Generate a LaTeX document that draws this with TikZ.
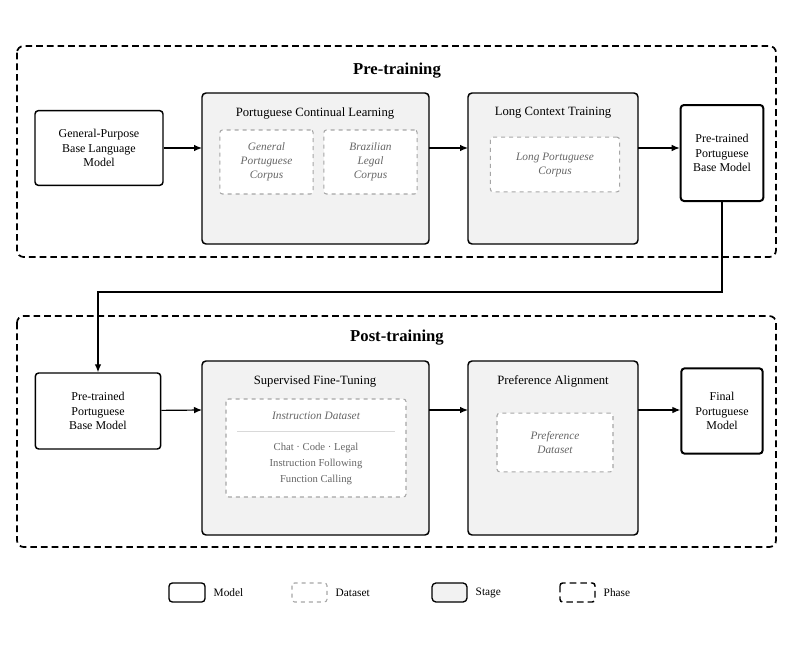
\documentclass[tikz,border=0pt]{standalone}
\usepackage{fontspec}
\setmainfont{Liberation Serif}
\usetikzlibrary{arrows.meta}
\begin{document}
\begin{tikzpicture}[x=0.75pt,y=-0.75pt]
  \tikzset{MOD/.style={draw, rounded corners=2.5pt, line width=1.1pt, fill=white, align=center, font=\fontsize{9}{11}\selectfont}}
  \tikzset{FIN/.style={MOD, line width=1.5pt}}
  \tikzset{STG/.style={draw, rounded corners=3pt, line width=1.1pt, fill=gray!10}}
  \tikzset{DAT/.style={draw=gray!70, dashed, rounded corners=2pt, line width=0.8pt, fill=white, align=center, text=gray!80!black, font=\fontsize{8.5}{10.5}\selectfont\itshape}}
  \tikzset{PHS/.style={draw, dashed, dash pattern=on 5pt off 3pt, rounded corners=5pt, line width=1.3pt}}
  \tikzset{ARR/.style={-{Latex[length=6pt,width=5pt]}, line width=0.9pt}}
  \tikzset{TTL/.style={font=\fontsize{9.5}{11}\selectfont}}

  \useasboundingbox (0,0) rectangle (793,653);

  % phases
  \draw[PHS] (17,46) rectangle (776,257);
  \node[font=\fontsize{12.5}{14}\selectfont\bfseries] (ptt) at (397,71) {Pre-training};
  \draw[PHS] (17,316) rectangle (776,547);
  \node[font=\fontsize{12.5}{14}\selectfont\bfseries] (pot) at (397,338) {Post-training};

  % pre-training row
  \node[MOD, minimum width=96pt, minimum height=56pt] (m0) at (99,148) {General-Purpose\\Base Language\\Model};
  \draw[STG] (202,93) rectangle (429,244);
  \coordinate (s0w) at (202,148); \coordinate (s0e) at (429,148);
  \node[TTL] (t0) at (315,113) {Portuguese Continual Learning};
  \node[DAT, minimum width=70pt, minimum height=48pt] (d0) at (266.5,162) {General\\Portuguese\\Corpus};
  \node[DAT, minimum width=70pt, minimum height=48pt] (d1) at (370.5,162) {Brazilian\\Legal\\Corpus};
  \draw[STG] (468,93) rectangle (638,244);
  \coordinate (s1w) at (468,148); \coordinate (s1e) at (638,148);
  \node[TTL] (t1) at (553,113) {Long Context Training};
  \node[DAT, minimum width=97pt, minimum height=41pt] (d2) at (555,164.5) {Long Portuguese\\Corpus};
  \node[FIN, minimum width=62pt, minimum height=72pt] (m1) at (722,153) {Pre-trained\\Portuguese\\Base Model};

  \draw[ARR] (m0) -- (s0w);
  \draw[ARR] (s0e) -- (s1w);
  \draw[ARR] (s1e) -- (m1.west |- s1e);

  % post-training row
  \node[MOD, minimum width=94pt, minimum height=57pt] (m2) at (98,411) {Pre-trained\\Portuguese\\Base Model};
  \draw[ARR] (m1.south) |- (98,292) -- (m2.north);
  \draw[STG] (202,361) rectangle (429,535);
  \coordinate (s2w) at (202,410); \coordinate (s2e) at (429,410);
  \node[TTL] (t2) at (315,381) {Supervised Fine-Tuning};
  \draw[DAT] (226,399) rectangle (406,497);
  \node[DAT, draw=none, fill=none] (d3) at (316,416) {Instruction Dataset};
  \draw[gray!30, line width=0.6pt] (237,431) -- (395,431);
  \node[DAT, draw=none, fill=none, font=\fontsize{8}{12}\selectfont] (d3b) at (316,464) {Chat · Code · Legal\\Instruction Following\\Function Calling};
  \draw[STG] (468,361) rectangle (638,535);
  \coordinate (s3w) at (468,410); \coordinate (s3e) at (638,410);
  \node[TTL] (t3) at (553,381) {Preference Alignment};
  \node[DAT, minimum width=87pt, minimum height=44pt] (d4) at (555,442.5) {Preference\\Dataset};
  \node[FIN, minimum width=61pt, minimum height=64pt] (m3) at (722,411) {Final\\Portuguese\\Model};

  \draw[ARR] (m2) -- (s2w);
  \draw[ARR] (s2e) -- (s3w);
  \draw[ARR] (s3e) -- (m3.west |- s3e);

  % legend
  \draw[MOD, line width=1pt] (169,583) rectangle (205,602);
  \node[anchor=west, font=\fontsize{8.5}{10}\selectfont] (l0) at (209,592.5) {Model};
  \draw[DAT] (292,583) rectangle (327,602);
  \node[anchor=west, font=\fontsize{8.5}{10}\selectfont] (l1) at (331,592.5) {Dataset};
  \draw[STG, line width=1pt] (432,583) rectangle (467,602);
  \node[anchor=west, font=\fontsize{8.5}{10}\selectfont] (l2) at (471,592.5) {Stage};
  \draw[PHS, line width=1.1pt, rounded corners=2pt] (560,583) rectangle (595,602);
  \node[anchor=west, font=\fontsize{8.5}{10}\selectfont] (l3) at (599,592.5) {Phase};
\end{tikzpicture}
\end{document}
